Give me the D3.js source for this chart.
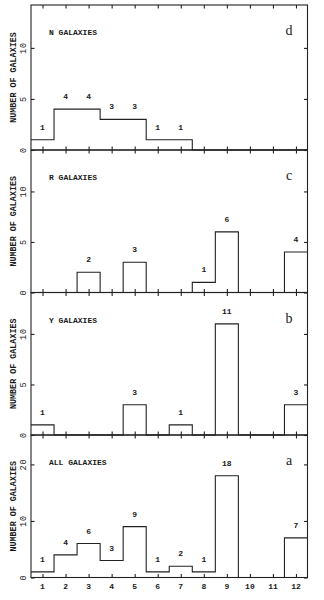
<!DOCTYPE html>
<html lang="en">

<head>
  <meta charset="UTF-8">
  <script src="https://d3js.org/d3.v7.min.js"></script>
  <style>
    html,
    body {
      margin: 0px;
      padding: 0px;
      background-color: white;
    }

    .tick line {
      stroke: #222;
      stroke-width: 1.1;
    }

    .frame,
    .hist {
      fill: none;
      stroke: #222;
      stroke-width: 1.1;
    }

    .mono {
      font-family: "Liberation Mono", "DejaVu Sans Mono", monospace;
      fill: #1a1a1a;
    }
  </style>
</head>

<body>
  <svg id="plot-svg" width="324" height="600"></svg>

  <script>
    // bins along the x axis
    const bins = [1, 2, 3, 4, 5, 6, 7, 8, 9, 10, 11, 12];

    // counts per bin, one array per panel
    const nCounts = [1, 4, 4, 3, 3, 1, 1, 0, 0, 0, 0, 0];
    const rCounts = [0, 0, 2, 0, 3, 0, 0, 1, 6, 0, 0, 4];
    const yCounts = [1, 0, 0, 0, 3, 0, 1, 0, 11, 0, 0, 3];
    const allCounts = [1, 4, 6, 3, 9, 1, 2, 1, 18, 0, 0, 7];

    const panelNames = ["N GALAXIES", "R GALAXIES", "Y GALAXIES", "ALL GALAXIES"];
    const panelLetters = ["d", "c", "b", "a"];
    const panelCounts = [nCounts, rCounts, yCounts, allCounts];
    const panelYMax = [14.2, 14.1, 14.1, 25.2];
    const panelYTicks = [[0, 5, 10], [0, 5, 10], [0, 5, 10], [0, 10, 20]];

    const svg = d3.select("#plot-svg");
    const left = 31, right = 307.5;
    // horizontal edges shared by the stacked panels
    const edges = [5, 150, 292.5, 435, 577.5];
    const tick = 3.5;

    const x = d3.scaleLinear().domain([0.5, 12.5]).range([left, right]);

    panelCounts.forEach((counts, p) => {
      const top = edges[p], bottom = edges[p + 1];
      const y = d3.scaleLinear().domain([0, panelYMax[p]]).range([bottom, top]);
      const g = svg.append("g").attr("class", "panel");

      // ticks on all four sides, pointing inward
      g.append("g").attr("transform", `translate(0, ${bottom})`)
        .call(d3.axisBottom(x).tickValues(bins).tickSizeInner(-tick).tickSizeOuter(0).tickFormat(""));
      g.append("g").attr("transform", `translate(0, ${top})`)
        .call(d3.axisTop(x).tickValues(bins).tickSizeInner(-tick).tickSizeOuter(0).tickFormat(""));
      g.append("g").attr("transform", `translate(${left}, 0)`)
        .call(d3.axisLeft(y).tickValues(panelYTicks[p]).tickSizeInner(-tick).tickSizeOuter(0).tickFormat(""));
      g.append("g").attr("transform", `translate(${right}, 0)`)
        .call(d3.axisRight(y).tickValues(panelYTicks[p]).tickSizeInner(-tick).tickSizeOuter(0).tickFormat(""));
      g.selectAll(".domain").remove();

      // histogram outline
      const pts = counts.map((c, i) => [bins[i] - 0.5, c]);
      pts.push([bins[bins.length - 1] + 0.5, counts[counts.length - 1]]);
      const line = d3.line().x(d => x(d[0])).y(d => y(d[1])).curve(d3.curveStepAfter);
      g.append("path").attr("class", "hist").attr("d", line(pts));

      g.append("rect").attr("class", "frame")
        .attr("x", left).attr("y", top)
        .attr("width", right - left).attr("height", bottom - top);

      // count labels above each non-empty bin
      g.selectAll("text.count")
        .data(counts.map((c, i) => ({ bin: bins[i], c: c })).filter(d => d.c > 0))
        .join("text")
        .attr("class", "count mono")
        .attr("x", d => x(d.bin))
        .attr("y", d => y(d.c) - 10)
        .attr("text-anchor", "middle")
        .attr("font-size", 8)
        .attr("font-weight", "bold")
        .text(d => d.c);

      // y tick labels, rotated
      g.selectAll("text.ylab")
        .data(panelYTicks[p])
        .join("text")
        .attr("class", "ylab mono")
        .attr("transform", d => `translate(25.5, ${y(d)}) rotate(-90)`)
        .attr("text-anchor", "middle")
        .attr("font-size", 8.5)
        .attr("letter-spacing", 1)
        .text(d => d);

      g.append("text")
        .attr("class", "mono")
        .attr("transform", `translate(15.5, ${(top + bottom) / 2}) rotate(-90)`)
        .attr("text-anchor", "middle")
        .attr("font-size", 8.4)
        .attr("font-weight", "bold")
        .text("NUMBER OF GALAXIES");

      g.append("text")
        .attr("class", "mono")
        .attr("x", 49).attr("y", top + 30)
        .attr("font-size", 8)
        .attr("font-weight", "bold")
        .text(panelNames[p]);

      g.append("text")
        .attr("x", 289).attr("y", top + 30)
        .attr("text-anchor", "middle")
        .style("font-family", "'Liberation Serif', 'DejaVu Serif', serif")
        .attr("font-size", 14)
        .attr("fill", "#1a1a1a")
        .text(panelLetters[p]);
    });

    // bin numbers under the bottom panel
    svg.selectAll("text.xlab")
      .data(bins)
      .join("text")
      .attr("class", "xlab mono")
      .attr("x", d => x(d))
      .attr("y", edges[4] + 11)
      .attr("text-anchor", "middle")
      .attr("font-size", 8)
      .attr("font-weight", "bold")
      .text(d => d);
  </script>
</body>

</html>
